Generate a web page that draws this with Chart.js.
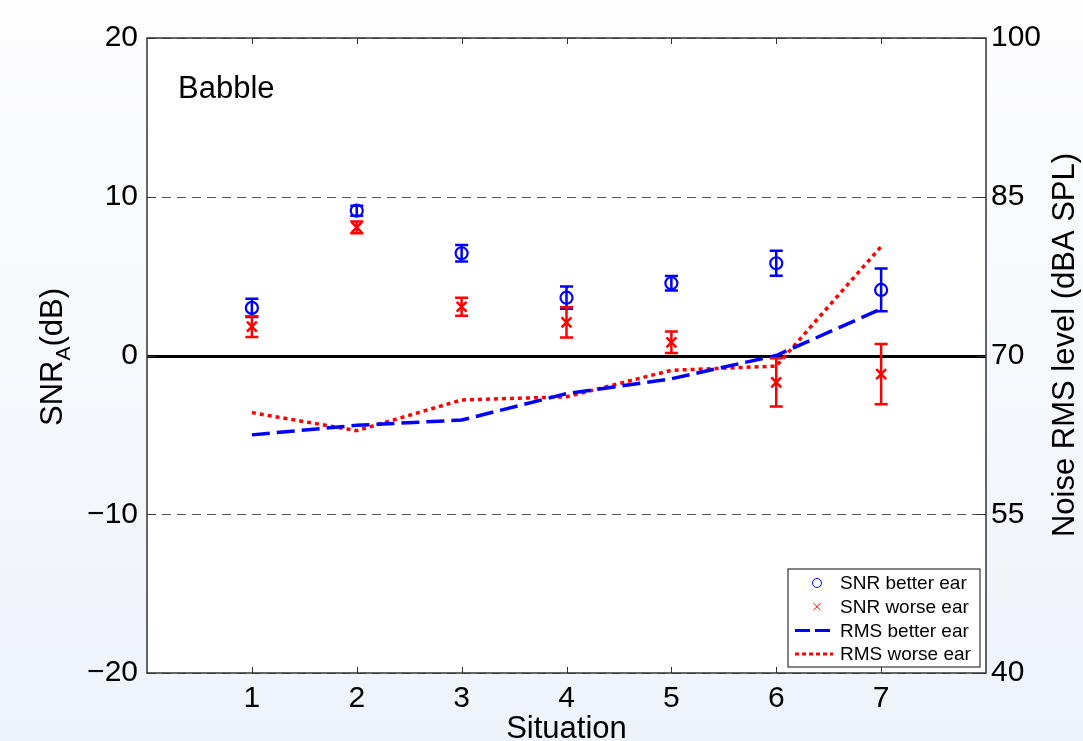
<!DOCTYPE html>
<html>
<head>
<meta charset="utf-8">
<script src="https://cdn.jsdelivr.net/npm/chart.js@4.4.0/dist/chart.umd.min.js"></script>
<style>
	html, body { margin: 0; padding: 0; background: #f6f9fc; }
	canvas { display: block; }
</style>
</head>
<body>
<canvas id="chartBabble" width="1083" height="741"></canvas>
<script>
// values
var situations = [1, 2, 3, 4, 5, 6, 7];
var snrBetter = [3.0, 9.12, 6.44, 3.64, 4.55, 5.81, 4.13];
var snrBetterErr = [0.58, 0.32, 0.52, 0.7, 0.46, 0.79, 1.35];
var snrWorse = [1.82, 8.07, 3.07, 2.09, 0.83, -1.69, -1.17];
var snrWorseErr = [0.65, 0.37, 0.57, 0.95, 0.68, 1.52, 1.9];
var rmsBetter = [62.5, 63.4, 63.9, 66.4, 67.8, 70.0, 74.4];
var rmsWorse = [64.6, 62.9, 65.8, 66.1, 68.6, 69.0, 80.3];
var snrTicks = [-20, -10, 0, 10, 20];
var rmsTicks = [40, 55, 70, 85, 100];

var FONT = "'Liberation Sans', Arial, Helvetica, sans-serif";
Chart.defaults.font.family = FONT;
Chart.defaults.color = '#000';

function points(ys) {
	return situations.map(function(x, i) { return { x: x, y: ys[i] }; });
}
function minus(v) {
	return String(v).replace('-', '\u2212');
}

var legendItems = [
	{ text: 'SNR better ear', kind: 'circle', color: '#0000ff' },
	{ text: 'SNR worse ear', kind: 'cross', color: '#ff0000' },
	{ text: 'RMS better ear', kind: 'line', color: '#0000ff', dash: [15, 5] },
	{ text: 'RMS worse ear', kind: 'line', color: '#ff0000', dash: [4, 3] }
];

var figurePlugin = {
	id: 'figure',
	beforeDraw: function(chart) {
		var ctx = chart.ctx, a = chart.chartArea;
		var g = ctx.createLinearGradient(0, 0, 0, chart.height);
		g.addColorStop(0, '#fdfdfe');
		g.addColorStop(1, '#eef3fa');
		ctx.save();
		ctx.fillStyle = g;
		ctx.fillRect(0, 0, chart.width, chart.height);
		ctx.fillStyle = '#fff';
		ctx.fillRect(a.left, a.top, a.right - a.left, a.bottom - a.top);
		ctx.restore();
	},
	beforeDatasetsDraw: function(chart) {
		var ctx = chart.ctx, a = chart.chartArea, y = chart.scales.y;
		ctx.save();
		snrTicks.forEach(function(v) {
			var py = Math.round(y.getPixelForValue(v)) + 0.5;
			if (v === 0) {
				ctx.strokeStyle = '#000';
				ctx.lineWidth = 3;
				ctx.setLineDash([]);
			} else {
				ctx.strokeStyle = '#555';
				ctx.lineWidth = 1;
				ctx.setLineDash([9, 6]);
			}
			ctx.beginPath();
			ctx.moveTo(a.left, py);
			ctx.lineTo(a.right, py);
			ctx.stroke();
		});
		ctx.restore();
	},
	afterDatasetsDraw: function(chart) {
		var ctx = chart.ctx, a = chart.chartArea;
		var x = chart.scales.x, y = chart.scales.y;
		ctx.save();

		// error bars
		function bars(vals, errs, color) {
			ctx.strokeStyle = color;
			ctx.lineWidth = 2.5;
			vals.forEach(function(v, i) {
				var px = x.getPixelForValue(situations[i]);
				var top = y.getPixelForValue(v + errs[i]);
				var bot = y.getPixelForValue(v - errs[i]);
				ctx.beginPath();
				ctx.moveTo(px, top); ctx.lineTo(px, bot);
				ctx.moveTo(px - 6.5, top); ctx.lineTo(px + 6.5, top);
				ctx.moveTo(px - 6.5, bot); ctx.lineTo(px + 6.5, bot);
				ctx.stroke();
			});
		}
		bars(snrBetter, snrBetterErr, '#0000ff');
		bars(snrWorse, snrWorseErr, '#ff0000');

		// frame and inward ticks
		ctx.strokeStyle = '#333';
		ctx.lineWidth = 1.5;
		ctx.strokeRect(a.left, a.top, a.right - a.left, a.bottom - a.top);
		ctx.lineWidth = 1;
		ctx.beginPath();
		situations.forEach(function(v) {
			var px = Math.round(x.getPixelForValue(v)) + 0.5;
			ctx.moveTo(px, a.bottom); ctx.lineTo(px, a.bottom - 6);
			ctx.moveTo(px, a.top); ctx.lineTo(px, a.top + 6);
		});
		snrTicks.forEach(function(v) {
			var py = Math.round(y.getPixelForValue(v)) + 0.5;
			ctx.moveTo(a.left, py); ctx.lineTo(a.left + 9, py);
			ctx.moveTo(a.right, py); ctx.lineTo(a.right - 9, py);
		});
		ctx.stroke();

		// titles
		ctx.fillStyle = '#000';
		ctx.textBaseline = 'alphabetic';
		ctx.font = '31px ' + FONT;
		ctx.textAlign = 'left';
		ctx.fillText('Babble', 178, 98);
		ctx.textAlign = 'center';
		ctx.fillText('Situation', (a.left + a.right) / 2, 738);

		ctx.save();
		ctx.translate(1074, 345);
		ctx.rotate(-Math.PI / 2);
		ctx.fillText('Noise RMS level (dBA SPL)', 0, 0);
		ctx.restore();

		ctx.save();
		ctx.translate(62, 357);
		ctx.rotate(-Math.PI / 2);
		ctx.textAlign = 'left';
		var big = '31px ' + FONT, small = '21px ' + FONT;
		ctx.font = big;
		var w1 = ctx.measureText('SNR').width, w3 = ctx.measureText('(dB)').width;
		ctx.font = small;
		var w2 = ctx.measureText('A').width;
		var sx = -(w1 + w2 + w3) / 2;
		ctx.font = big;
		ctx.fillText('SNR', sx, 0);
		ctx.font = small;
		ctx.fillText('A', sx + w1, 8);
		ctx.font = big;
		ctx.fillText('(dB)', sx + w1 + w2, 0);
		ctx.restore();

		// legend
		var lx = 788, ly = 569, lw = 192, lh = 98;
		ctx.fillStyle = '#fff';
		ctx.fillRect(lx, ly, lw, lh);
		ctx.strokeStyle = '#333';
		ctx.lineWidth = 1.2;
		ctx.strokeRect(lx, ly, lw, lh);
		ctx.font = '19px ' + FONT;
		ctx.textAlign = 'left';
		ctx.textBaseline = 'middle';
		legendItems.forEach(function(item, i) {
			var ry = ly + 14 + i * 23.7;
			ctx.strokeStyle = item.color;
			ctx.setLineDash([]);
			if (item.kind === 'circle') {
				ctx.lineWidth = 1;
				ctx.beginPath();
				ctx.arc(817, ry, 4.5, 0, Math.PI * 2);
				ctx.stroke();
			} else if (item.kind === 'cross') {
				ctx.lineWidth = 1;
				ctx.beginPath();
				ctx.moveTo(813.5, ry - 3.5); ctx.lineTo(820.5, ry + 3.5);
				ctx.moveTo(813.5, ry + 3.5); ctx.lineTo(820.5, ry - 3.5);
				ctx.stroke();
			} else {
				ctx.lineWidth = 3;
				ctx.setLineDash(item.dash);
				ctx.beginPath();
				ctx.moveTo(795, ry); ctx.lineTo(833, ry);
				ctx.stroke();
			}
			ctx.setLineDash([]);
			ctx.fillStyle = '#000';
			ctx.fillText(item.text, 840, ry + 1);
		});
		ctx.restore();
	}
};

var myChart = new Chart(document.getElementById('chartBabble'), {
	type: 'scatter',
	data: {
		datasets: [{
			label: 'SNR better ear',
			data: points(snrBetter),
			yAxisID: 'y',
			pointStyle: 'circle',
			pointRadius: 6,
			pointBorderWidth: 2.2,
			borderColor: '#0000ff',
			backgroundColor: 'rgba(0,0,0,0)'
		}, {
			label: 'SNR worse ear',
			data: points(snrWorse),
			yAxisID: 'y',
			pointStyle: 'crossRot',
			pointRadius: 7,
			pointBorderWidth: 2.5,
			borderColor: '#ff0000',
			backgroundColor: '#ff0000'
		}, {
			label: 'RMS better ear',
			type: 'line',
			data: points(rmsBetter),
			yAxisID: 'y1',
			borderColor: '#0000ff',
			borderWidth: 3.5,
			borderDash: [18, 7],
			pointRadius: 0,
			fill: false,
			tension: 0
		}, {
			label: 'RMS worse ear',
			type: 'line',
			data: points(rmsWorse),
			yAxisID: 'y1',
			borderColor: '#ff0000',
			borderWidth: 3.5,
			borderDash: [4, 4],
			pointRadius: 0,
			fill: false,
			tension: 0
		}]
	},
	options: {
		responsive: false,
		animation: false,
		layout: { padding: { top: 38, left: 0, right: 0, bottom: 0 } },
		plugins: {
			legend: { display: false },
			tooltip: { enabled: false }
		},
		scales: {
			x: {
				type: 'linear',
				min: 0,
				max: 8,
				afterBuildTicks: function(scale) {
					scale.ticks = situations.map(function(v) { return { value: v }; });
				},
				afterFit: function(scale) { scale.height = 68; },
				grid: { display: false, drawTicks: false },
				border: { display: false },
				ticks: { font: { size: 30 }, padding: 8, color: '#000' }
			},
			y: {
				position: 'left',
				min: -20,
				max: 20,
				afterBuildTicks: function(scale) {
					scale.ticks = snrTicks.map(function(v) { return { value: v }; });
				},
				afterFit: function(scale) { scale.width = 147; },
				grid: { display: false, drawTicks: false },
				border: { display: false },
				ticks: { font: { size: 30 }, padding: 9, color: '#000', callback: minus }
			},
			y1: {
				position: 'right',
				min: 40,
				max: 100,
				afterBuildTicks: function(scale) {
					scale.ticks = rmsTicks.map(function(v) { return { value: v }; });
				},
				afterFit: function(scale) { scale.width = 97; },
				grid: { display: false, drawTicks: false },
				border: { display: false },
				ticks: { font: { size: 30 }, padding: 5, color: '#000' }
			}
		}
	},
	plugins: [figurePlugin]
});
</script>
</body>
</html>
